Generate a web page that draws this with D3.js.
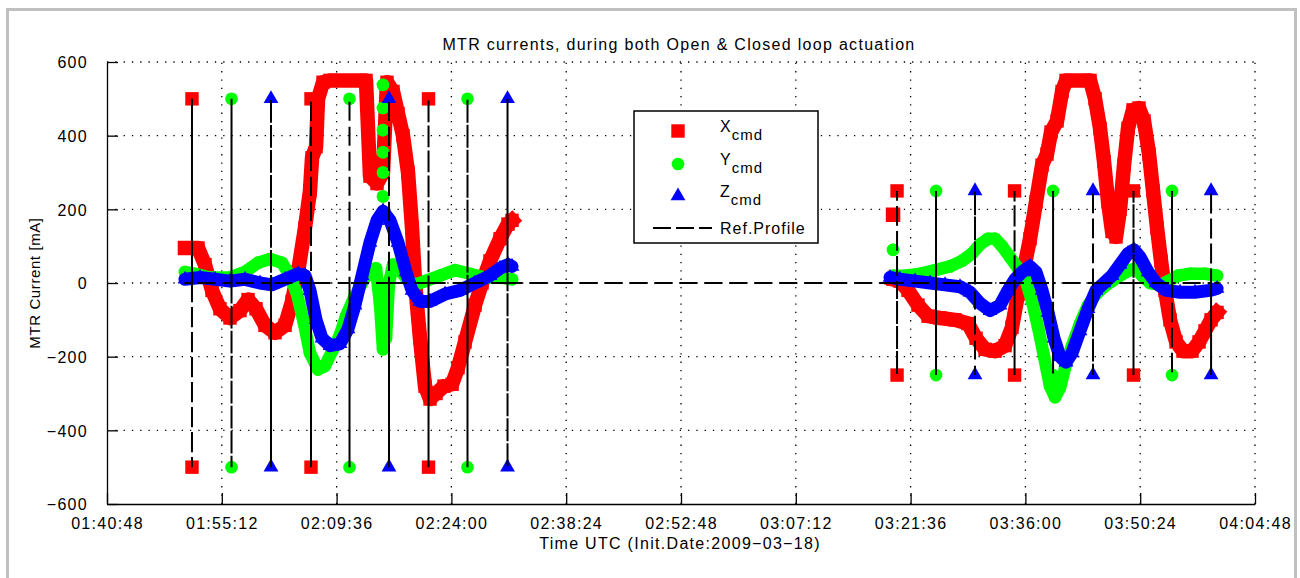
<!DOCTYPE html>
<html><head><meta charset="utf-8">
<script src="https://cdn.jsdelivr.net/npm/d3@7/dist/d3.min.js"></script>
<style>
html,body{margin:0;padding:0;background:#fff;}
svg text{font-family:"Liberation Sans",Arial,sans-serif;fill:#000;}
</style></head>
<body><svg id="chart" width="1300" height="578"></svg>
<script>
// ---- data (time = minutes after 00:00 UTC, value = mA) ----
const title = "MTR currents, during both Open & Closed loop actuation";
const xLabel = "Time UTC  (Init.Date:2009\u221203\u221218)";
const yLabel = "MTR Current [mA]";
const xTickValues = [100.8,115.2,129.6,144.0,158.4,172.8,187.2,201.6,216.0,230.4,244.8];
const yTickValues = [-600,-400,-200,0,200,400,600];

// X command (red); null breaks the trace
const xCmdTime = [110.58,112.22,113.09,113.97,114.97,116.23,117.48,118.49,119.49,120.62,121.87,123.13,124.01,124.76,125.64,126.26,126.52,127.02,127.27,127.90,128.77,133.29,133.79,134.67,135.42,135.92,136.68,137.30,137.93,138.56,139.06,139.44,140.06,140.69,141.32,142.07,143.07,144.08,144.83,145.71,146.96,147.84,148.84,150.10,151.10,151.60,
  null,199.40,null,
  199.40,200.27,201.28,202.53,203.79,205.29,207.17,208.80,209.81,210.94,212.19,213.45,214.32,215.08,215.83,216.58,217.33,218.09,218.71,219.22,219.97,220.60,221.10,224.11,224.74,225.36,225.86,226.37,226.87,227.37,227.87,228.37,228.87,229.50,230.25,230.88,231.51,232.01,232.51,233.01,233.52,234.14,234.90,235.77,236.90,237.78,238.53,239.29,240.04];
const xCmdVal = [95,95,50,-20,-70,-95,-75,-45,-70,-115,-135,-115,-50,30,150,250,340,370,500,545,550,550,290,270,300,545,520,460,400,300,150,0,-150,-280,-315,-300,-280,-275,-230,-160,-60,0,60,120,160,170,
  null,185,null,
  10,5,-20,-60,-90,-95,-100,-110,-150,-180,-185,-170,-120,-30,40,120,220,320,350,410,440,520,550,550,500,420,330,220,140,125,200,320,420,470,475,440,350,250,150,60,-20,-100,-160,-185,-185,-160,-130,-100,-80];

// Y command (green)
const yCmdTime = [110.58,111.84,113.72,116.23,118.11,119.74,121.25,122.75,123.76,124.63,125.51,126.26,127.27,128.15,129.15,130.03,130.78,131.78,132.79,133.79,134.54,135.05,135.42,
  null,135.42,null,135.42,null,135.42,null,135.42,null,135.42,null,135.42,null,
  135.80,136.17,136.68,137.55,138.43,139.44,140.69,142.57,144.45,146.34,148.22,150.10,151.60,
  null,199.40,null,
  199.40,200.90,202.78,204.66,206.55,208.05,209.31,210.31,211.31,212.19,213.07,214.07,215.08,216.08,216.83,217.59,218.34,219.09,219.72,220.34,221.10,221.85,222.85,223.86,224.86,225.86,226.87,227.87,229.13,229.88,230.63,231.63,232.89,233.89,235.15,236.65,238.53,240.04];
const yCmdVal = [30,25,15,15,30,55,65,55,20,-30,-110,-190,-235,-225,-180,-140,-90,-40,0,35,40,-60,-180,
  null,235,null,300,null,355,null,415,null,475,null,538,null,
  -150,0,50,35,10,-5,5,20,35,25,15,15,10,
  null,90,null,
  20,20,25,35,45,60,80,105,120,120,100,70,40,5,-50,-120,-200,-280,-310,-285,-220,-170,-110,-60,-30,-10,5,20,35,40,20,0,-5,5,20,25,25,20];

// Z command (blue)
const zCmdTime = [110.58,112.47,114.35,116.23,118.11,119.99,121.50,123.13,124.76,125.64,126.26,127.02,127.77,128.77,130.03,131.03,131.91,132.79,133.79,134.67,135.42,136.30,137.30,138.31,139.06,140.06,141.32,143.20,145.08,146.96,148.84,150.10,151.10,151.60,
  null,
  199.02,200.27,202.16,204.04,205.92,207.80,209.05,210.31,211.56,212.82,213.82,214.70,215.58,216.58,217.33,218.09,218.84,219.59,220.34,221.10,221.85,222.85,223.86,224.86,225.86,226.87,227.87,228.87,229.63,230.38,231.38,232.39,233.64,235.40,237.28,239.16,240.04];
const zCmdVal = [10,15,10,5,10,0,-5,10,25,20,-20,-100,-150,-170,-165,-125,-60,20,110,170,195,170,110,30,-20,-50,-50,-30,-20,0,20,40,50,45,
  null,
  15,10,5,0,-5,-10,-25,-55,-75,-60,-20,10,30,45,30,-20,-80,-150,-200,-215,-190,-130,-70,-20,0,20,50,80,90,70,30,0,-20,-25,-25,-20,-15];

// Reference profile pulses
const pulseTime = [111.46,116.42,121.37,126.39,131.22,136.17,141.13,146.02,151.04,
                   199.90,204.79,209.68,214.64,219.47,224.48,229.56,234.39,239.29];
const pulseAxis = ["X","Y","Z","X","Y","Z","X","Y","Z","X","Y","Z","X","Y","Z","X","Y","Z"];
const pulseAmp  = [500,500,500,500,500,500,500,500,500,250,250,250,250,250,250,250,250,250];
const refStart = 110.5, refEnd = 240.3;

const legendLabels = ["X","Y","Z"];
const legendSub = "cmd";
const legendRef = "Ref.Profile";

// ---- drawing ----
const svg = d3.select("#chart");
const W = 1300, H = 578;
const m = {left:107, right:1255, top:62, bottom:504};
const x = d3.scaleLinear().domain([100.8,244.8]).range([m.left, m.right]);
const y = d3.scaleLinear().domain([-600,600]).range([m.bottom, m.top]);
const colors = {X:"#ff0000", Y:"#00ff00", Z:"#0000ff"};
const symType = {X:d3.symbolSquare, Y:d3.symbolCircle, Z:d3.symbolTriangle};
const symSize = {X:180, Y:125, Z:95};
const bandW = {X:14.5, Y:12.5, Z:13};

svg.append("rect").attr("width",W).attr("height",H).attr("fill","#fff");
svg.append("rect").attr("x",7.5).attr("y",9.5).attr("width",1288).attr("height",620)
  .attr("fill","none").attr("stroke","#c0c0c0").attr("stroke-width",3);

function fmt(mn){
  const s = Math.round(mn*60);
  const hh = Math.floor(s/3600), mm = Math.floor((s%3600)/60), ss = s%60;
  return [hh,mm,ss].map(v=>String(v).padStart(2,"0")).join(":");
}

// grid (dotted)
const grid = svg.append("g").attr("stroke","#000").attr("stroke-width",1.3).attr("stroke-dasharray","1.3,7");
xTickValues.slice(1).forEach(t=>{
  grid.append("line").attr("x1",x(t)).attr("x2",x(t)).attr("y1",m.bottom).attr("y2",m.top);
});
yTickValues.slice(1).forEach(v=>{
  grid.append("line").attr("x1",m.left).attr("x2",m.right).attr("y1",y(v)).attr("y2",y(v));
});

// axes
const xAxis = d3.axisBottom(x).tickValues(xTickValues).tickFormat(fmt).tickSizeInner(-11).tickSizeOuter(0).tickPadding(14);
const yAxis = d3.axisLeft(y).tickValues(yTickValues).tickFormat(d=>d<0?"\u2212"+Math.abs(d):d).tickSizeInner(-11).tickSizeOuter(0).tickPadding(19);
const gx = svg.append("g").attr("transform",`translate(0,${m.bottom})`).call(xAxis);
const gy = svg.append("g").attr("transform",`translate(${m.left},0)`).call(yAxis);
[gx,gy].forEach(g=>{
  g.select(".domain").attr("stroke","#000").attr("stroke-width",1.3);
  g.selectAll(".tick line").attr("stroke","#000").attr("stroke-width",1.3);
  g.selectAll(".tick text").attr("font-family","Liberation Sans, Arial, sans-serif").attr("font-size",16).attr("letter-spacing","1.3px").attr("fill","#000");
});
gy.selectAll(".tick text").attr("dy","0.36em");

// series bands
function series(key, times, vals){
  const pts = times.map((t,i)=>[t, vals[i]]);
  const line = d3.line().defined(d=>d[0]!==null && d[1]!==null).x(d=>x(d[0])).y(d=>y(d[1])).curve(d3.curveLinear);
  svg.append("path").attr("d",line(pts)).attr("fill","none").attr("stroke",colors[key])
    .attr("stroke-width",bandW[key]).attr("stroke-linejoin","round")
    .attr("stroke-linecap", key==="X"?"square":"round");
  const sym = d3.symbol().type(symType[key]).size(symSize[key]);
  svg.append("g").selectAll("path").data(pts.filter(d=>d[0]!==null && d[1]!==null)).join("path")
    .attr("d",sym()).attr("fill",colors[key])
    .attr("transform",d=>`translate(${x(d[0])},${y(d[1])})`);
}
series("X", xCmdTime, xCmdVal);
series("Y", yCmdTime, yCmdVal);
series("Z", zCmdTime, zCmdVal);

// pulse markers (commanded peaks)
pulseTime.forEach((t,i)=>{
  const k = pulseAxis[i];
  const sym = d3.symbol().type(symType[k]).size(symSize[k])();
  [pulseAmp[i], -pulseAmp[i]].forEach(v=>{
    svg.append("path").attr("d",sym).attr("fill",colors[k]).attr("transform",`translate(${x(t)},${y(v)})`);
  });
});

// reference profile
const refPts = [[refStart,0]];
pulseTime.forEach((t,i)=>{ refPts.push([t,0],[t,pulseAmp[i]],[t,-pulseAmp[i]],[t,0]); });
refPts.push([refEnd,0]);
svg.append("path").attr("d", d3.line().x(d=>x(d[0])).y(d=>y(d[1]))(refPts))
  .attr("fill","none").attr("stroke","#000").attr("stroke-width",2).attr("stroke-dasharray","18,7");

// title & labels
svg.append("text").attr("x",679).attr("y",50).attr("text-anchor","middle").attr("font-size",16).attr("letter-spacing","1.3px").text(title);
svg.append("text").attr("x",680).attr("y",549).attr("text-anchor","middle").attr("font-size",16).attr("letter-spacing","1.3px").text(xLabel);
svg.append("text").attr("transform",`translate(40,${(m.top+m.bottom)/2}) rotate(-90)`).attr("text-anchor","middle").attr("font-size",15).attr("letter-spacing","0.6px").text(yLabel);

// legend
const lg = svg.append("g");
lg.append("rect").attr("x",634).attr("y",111).attr("width",184).attr("height",132).attr("fill","#fff").attr("stroke","#000").attr("stroke-width",1.5);
const rowY = [131,164,196];
legendLabels.forEach((k,i)=>{
  lg.append("path").attr("d",d3.symbol().type(symType[k]).size(symSize[k])()).attr("fill",colors[k]).attr("transform",`translate(678,${rowY[i]})`);
  const tx = lg.append("text").attr("x",720).attr("y",rowY[i]+1).attr("font-size",16).attr("letter-spacing","1px");
  tx.append("tspan").text(k);
  tx.append("tspan").attr("dy",8).attr("font-size",15).text(legendSub);
});
lg.append("line").attr("x1",653).attr("x2",712).attr("y1",228).attr("y2",228).attr("stroke","#000").attr("stroke-width",1.8).attr("stroke-dasharray","18,5");
lg.append("text").attr("x",720).attr("y",234).attr("font-size",16).attr("letter-spacing","1px").text(legendRef);
</script></body></html>
